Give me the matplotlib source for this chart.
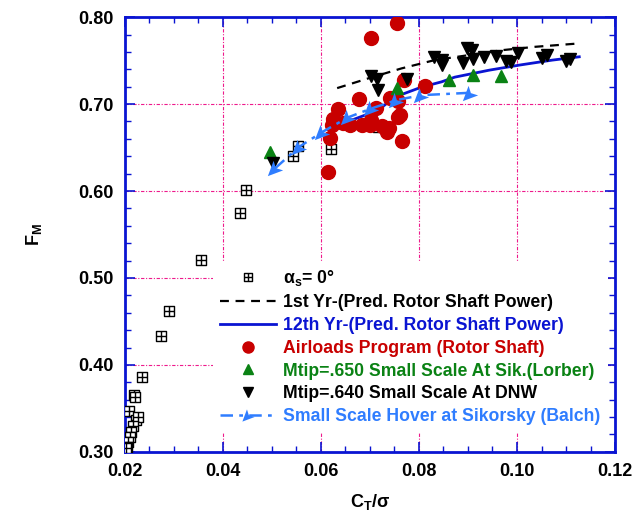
import numpy as np
import matplotlib
matplotlib.use('Agg')
import matplotlib.pyplot as plt
import matplotlib.ticker as ticker
from matplotlib.path import Path

plt.rcParams['font.family'] = ['Liberation Sans', 'DejaVu Sans']
plt.rcParams['font.weight'] = 'bold'
plt.rcParams['mathtext.fontset'] = 'custom'
plt.rcParams['mathtext.rm'] = 'Liberation Sans:bold'
plt.rcParams['mathtext.it'] = 'Liberation Sans:bold'
plt.rcParams['mathtext.bf'] = 'Liberation Sans:bold'

# --- data ---
alpha_ct = [0.0553, 0.0543, 0.0448, 0.0434, 0.0621, 0.0717, 0.0356, 0.0290, 0.0274,
            0.0235, 0.0218, 0.0221, 0.0208, 0.0223, 0.0227, 0.0216, 0.0212, 0.0210,
            0.0206, 0.0204, 0.0203]
alpha_fm = [0.6517, 0.6402, 0.6011, 0.5747, 0.6483, 0.6736, 0.5207, 0.4620, 0.4333,
            0.3860, 0.3655, 0.3630, 0.3470, 0.3370, 0.3400, 0.3300, 0.3230, 0.3170,
            0.3110, 0.3060, 0.3040]

yr1_ct = [0.0633, 0.0696, 0.0764, 0.0832, 0.0901, 0.0969, 0.1037, 0.1127]
yr1_fm = [0.7184, 0.7295, 0.7410, 0.7506, 0.7563, 0.7620, 0.7659, 0.7698]

yr12_ct = [0.0641, 0.0717, 0.0750, 0.0805, 0.0846, 0.0873, 0.0943, 0.1004, 0.1072, 0.1127]
yr12_fm = [0.6770, 0.6930, 0.7080, 0.7195, 0.7256, 0.7310, 0.7390, 0.7448, 0.7506, 0.7544]

air_ct = [0.0755, 0.0703, 0.0770, 0.0813, 0.0677, 0.0740, 0.0713, 0.0634, 0.0625,
          0.0622, 0.0644, 0.0660, 0.0683, 0.0703, 0.0701, 0.0725, 0.0738, 0.0735,
          0.0762, 0.0758, 0.0765, 0.0619, 0.0614, 0.0757]
air_fm = [0.7928, 0.7755, 0.7276, 0.7207, 0.7054, 0.7073, 0.6950, 0.6943, 0.6823,
          0.6759, 0.6785, 0.6759, 0.6755, 0.6816, 0.6759, 0.6747, 0.6720, 0.6684,
          0.6874, 0.6854, 0.6575, 0.6605, 0.6215, 0.7040]

m650_ct = [0.0496, 0.0756, 0.0861, 0.0911, 0.0967]
m650_fm = [0.6445, 0.7180, 0.7276, 0.7333, 0.7322]

m640_ct = [0.0503, 0.0703, 0.0715, 0.0716, 0.0776, 0.0831, 0.0847, 0.0847, 0.0890,
           0.0897, 0.0908, 0.0911, 0.0932, 0.0957, 0.0977, 0.0988, 0.1003, 0.1050,
           0.1062, 0.1099, 0.1109]
m640_fm = [0.6318, 0.7322, 0.7287, 0.7160, 0.7283, 0.7544, 0.7506, 0.7448, 0.7475,
           0.7640, 0.7628, 0.7517, 0.7544, 0.7552, 0.7498, 0.7486, 0.7590, 0.7536,
           0.7563, 0.7498, 0.7522]

hover_ct = [0.0506, 0.0556, 0.0603, 0.0655, 0.0703, 0.0754, 0.0805, 0.0904]
hover_fm = [0.6260, 0.6510, 0.6680, 0.6847, 0.6950, 0.7046, 0.7103, 0.7130]

# square-with-cross marker
box_plus = Path([(-1, -1), (1, -1), (1, 1), (-1, 1), (-1, -1),
                 (0, -1), (0, 1), (-1, 0), (1, 0)],
                [Path.MOVETO, Path.LINETO, Path.LINETO, Path.LINETO, Path.CLOSEPOLY,
                 Path.MOVETO, Path.LINETO, Path.MOVETO, Path.LINETO])
# dart pointing to lower left
dart = Path([(-1, -1), (1, -0.25), (0.05, 0.05), (-0.25, 1), (-1, -1)],
            [Path.MOVETO, Path.LINETO, Path.LINETO, Path.LINETO, Path.CLOSEPOLY])

BLUE = '#0a14d2'
RED = '#c80000'
GREEN = '#0a8214'
LBLUE = '#2f7dff'
GRID = '#ee1a8c'

fig = plt.figure(figsize=(6.44, 5.2), dpi=100)
ax = fig.add_axes([0.194, 0.131, 0.761, 0.836])

for x in [0.04, 0.06, 0.08, 0.10]:
    ax.axvline(x, color=GRID, lw=0.8, ls=(0, (3, 1.5, 1, 1.5)), zorder=0)
for y in [0.40, 0.50, 0.60, 0.70]:
    ax.axhline(y, color=GRID, lw=0.8, ls=(0, (3, 1.5, 1, 1.5)), zorder=0)

ax.plot(alpha_ct, alpha_fm, ls='none', marker=box_plus, ms=7, mfc='white',
        mec='black', mew=1.0, label=r'α$_\mathrm{s}$= 0°', zorder=3)
ax.plot(yr1_ct, yr1_fm, color='black', ls=(0, (4, 3)), lw=1.6,
        label='1st Yr-(Pred. Rotor Shaft Power)', zorder=2)
ax.plot(yr12_ct, yr12_fm, color=BLUE, lw=2.0,
        label='12th Yr-(Pred. Rotor Shaft Power)', zorder=2)
ax.plot(air_ct, air_fm, ls='none', marker='o', ms=10, color=RED,
        label='Airloads Program (Rotor Shaft)', zorder=3)
ax.plot(m650_ct, m650_fm, ls='none', marker='^', ms=9, color=GREEN,
        label='Mtip=.650 Small Scale At Sik.(Lorber)', zorder=4)
ax.plot(m640_ct, m640_fm, ls='none', marker='v', ms=9, color='black',
        label='Mtip=.640 Small Scale At DNW', zorder=4)
ax.plot(hover_ct, hover_fm, color=LBLUE, ls=(0, (5, 2.5, 1.5, 2.5)), lw=1.8,
        marker=dart, ms=11, mew=0,
        label='Small Scale Hover at Sikorsky (Balch)', zorder=5)

ax.set_xlim(0.02, 0.12)
ax.set_ylim(0.30, 0.80)
ax.xaxis.set_major_locator(ticker.MultipleLocator(0.02))
ax.xaxis.set_minor_locator(ticker.MultipleLocator(0.005))
ax.yaxis.set_major_locator(ticker.MultipleLocator(0.10))
ax.yaxis.set_minor_locator(ticker.MultipleLocator(0.02))
ax.xaxis.set_major_formatter(ticker.FormatStrFormatter('%.2f'))
ax.yaxis.set_major_formatter(ticker.FormatStrFormatter('%.2f'))
ax.tick_params(which='both', direction='in', top=True, right=True, color=BLUE,
               labelsize=13, pad=8)
ax.tick_params(which='major', length=7, width=1.2)
ax.tick_params(which='minor', length=4, width=1.0)
for lab in ax.get_xticklabels() + ax.get_yticklabels():
    lab.set_fontweight('bold')
for s in ax.spines.values():
    s.set_color(BLUE)
    s.set_linewidth(2.0)

ax.set_xlabel(r'C$_\mathrm{T}$/σ', fontsize=13, fontweight='bold', labelpad=9)
ax.set_ylabel(r'F$_\mathrm{M}$', fontsize=13, fontweight='bold', labelpad=25)

leg = ax.legend(loc='lower right', bbox_to_anchor=(0.985, 0.045), frameon=True,
                fontsize=12.7, handlelength=3.2, handletextpad=0.4,
                labelspacing=0.33, borderpad=0.4, borderaxespad=0.0,
                markerscale=0.8)
leg.get_frame().set_facecolor('white')
leg.get_frame().set_edgecolor('none')
leg.get_frame().set_alpha(1.0)
for txt, c in zip(leg.get_texts(), ['black', 'black', BLUE, RED, GREEN, 'black', LBLUE]):
    txt.set_color(c)
    txt.set_fontweight('bold')

fig.savefig('out.png', dpi=100)
